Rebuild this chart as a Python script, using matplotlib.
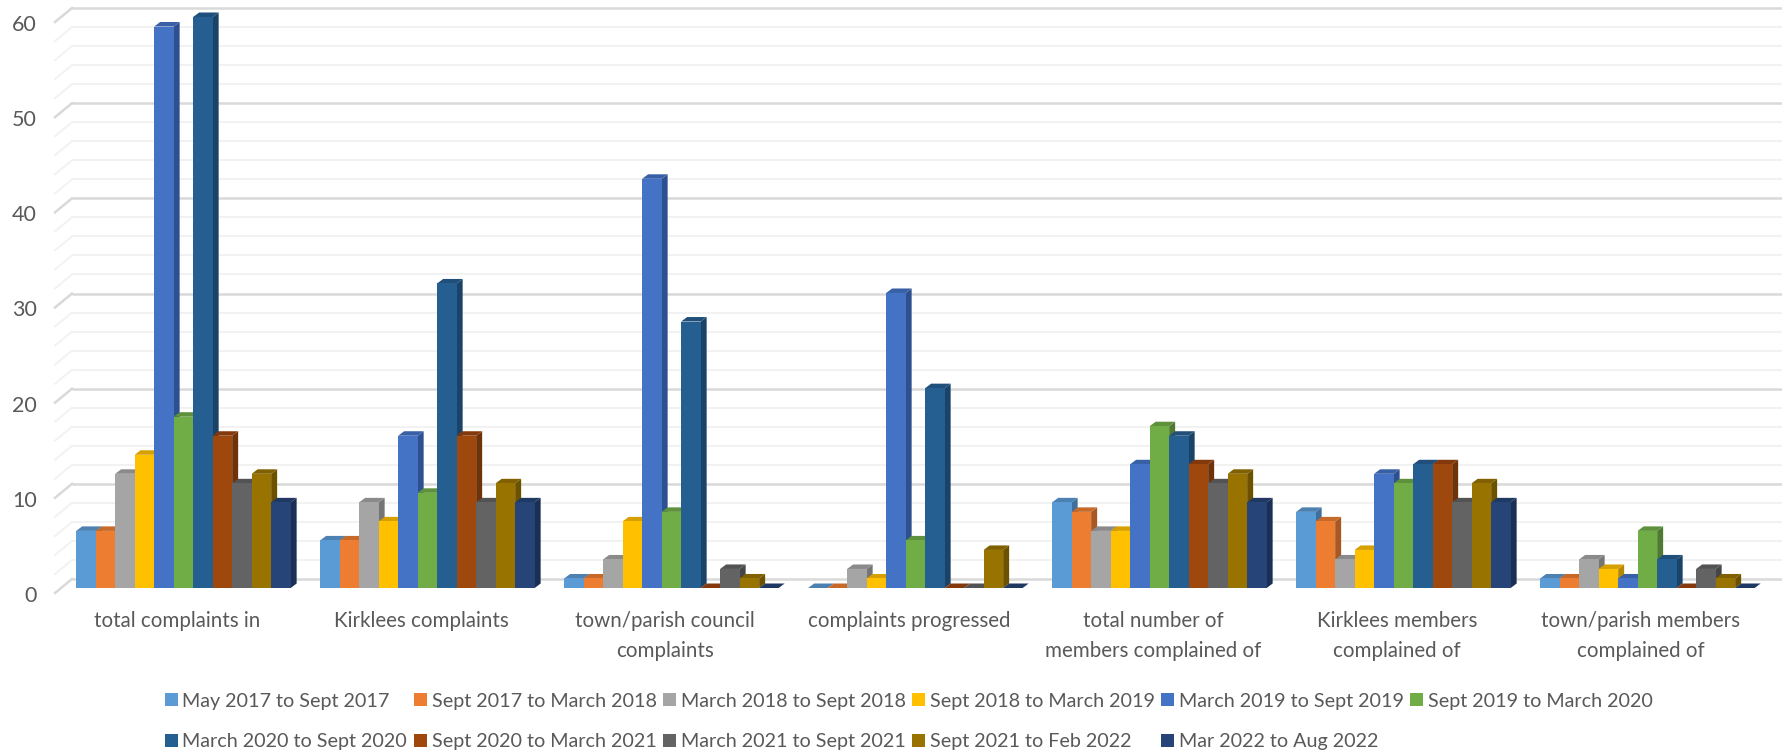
import matplotlib
matplotlib.use('Agg')
import matplotlib.pyplot as plt
from matplotlib.patches import Polygon, Rectangle

categories = ['total complaints in', 'Kirklees complaints', 'town/parish council\ncomplaints',
              'complaints progressed', 'total number of\nmembers complained of',
              'Kirklees members\ncomplained of', 'town/parish members\ncomplained of']
periods = ['May 2017 to Sept 2017', 'Sept 2017 to March 2018', 'March 2018 to Sept 2018',
           'Sept 2018 to March 2019', 'March 2019 to Sept 2019', 'Sept 2019 to March 2020',
           'March 2020 to Sept 2020', 'Sept 2020 to March 2021', 'March 2021 to Sept 2021',
           'Sept 2021 to Feb 2022', 'Mar 2022 to Aug 2022']
may_2017 = [6, 5, 1, 0, 9, 8, 1]
sep_2017 = [6, 5, 1, 0, 8, 7, 1]
mar_2018 = [12, 9, 3, 2, 6, 3, 3]
sep_2018 = [14, 7, 7, 1, 6, 4, 2]
mar_2019 = [59, 16, 43, 31, 13, 12, 1]
sep_2019 = [18, 10, 8, 5, 17, 11, 6]
mar_2020 = [60, 32, 28, 21, 16, 13, 3]
sep_2020 = [16, 16, 0, 0, 13, 13, 0]
mar_2021 = [11, 9, 2, 0, 11, 9, 2]
sep_2021 = [12, 11, 1, 4, 12, 11, 1]
mar_2022 = [9, 9, 0, 0, 9, 9, 0]
series = [may_2017, sep_2017, mar_2018, sep_2018, mar_2019, sep_2019,
          mar_2020, sep_2020, mar_2021, sep_2021, mar_2022]

front = ['#5b9bd5', '#ed7d31', '#a5a5a5', '#ffc000', '#4472c4', '#70ad47',
         '#255e91', '#9e480e', '#636363', '#997300', '#264478']
side = ['#3f6f9c', '#a85822', '#757575', '#b58800', '#2f5090', '#4f7a32',
        '#1a4367', '#6f320a', '#464646', '#6c5100', '#1a2f54']
top = ['#4c81b2', '#c66929', '#8a8a8a', '#d6a100', '#3860a6', '#5d913b',
       '#1f4f7a', '#84390c', '#535353', '#806000', '#203962']
text_color = '#595959'

W, H = 1782, 753
group_px = 244.0
bar_w = 19.5 / group_px
first_center_px = 183.4
y0_px, y60_px = 588.0, 17.0
unit_px = (y0_px - y60_px) / 60
dx = 6.0 / group_px
dy = 4.5 / unit_px

plt.rcParams['font.family'] = ['Lato', 'DejaVu Sans']
fig = plt.figure(figsize=(W / 100, H / 100), dpi=100)
ax = fig.add_axes([0, 0, 1, 1])
ax.set_xlim(-first_center_px / group_px, (W - first_center_px) / group_px)
ax.set_ylim(-(H - y0_px) / unit_px, y0_px / unit_px)
ax.axis('off')


def px_x(px):
    return (px - first_center_px) / group_px


def px_y(px):
    return (y0_px - px) / unit_px


# back wall gridlines and the short floor ticks on the left
wall_left, wall_right = px_x(72), px_x(1782)
tick_left = px_x(55)
for v in range(0, 61, 2):
    major = v % 10 == 0
    c = '#d9d9d9' if major else '#f2f2f2'
    lw = 1.8 if major else 1.4
    yb = v + 9 / unit_px
    ax.plot([wall_left, wall_right], [yb, yb], color=c, lw=lw, zorder=1, solid_capstyle='butt')
    ax.plot([tick_left, wall_left], [v - 5 / unit_px, yb], color=c, lw=lw, zorder=1)

# each bar is a side face, a top face and a front face, drawn left to right
for i in range(len(categories)):
    for j, vals in enumerate(series):
        v = vals[i]
        x0 = i + (j - 5.5) * bar_w
        x1 = x0 + bar_w
        z = 2 + j * 3
        ax.add_patch(Polygon([(x1, 0), (x1 + dx, dy), (x1 + dx, v + dy), (x1, v)],
                             facecolor=side[j], edgecolor='none', zorder=z))
        ax.add_patch(Polygon([(x0, v), (x0 + dx, v + dy), (x1 + dx, v + dy), (x1, v)],
                             facecolor=top[j], edgecolor='none', zorder=z + 1))
        ax.bar(x0, v, width=bar_w, align='edge', color=front[j], zorder=z + 2)

    ax.text(i - 6.5 / group_px, px_y(611), categories[i], ha='center', va='top', fontsize=14.8,
            color=text_color, linespacing=1.65, zorder=50)

for v in range(0, 61, 10):
    ax.text(px_x(37), v - 8 / unit_px, str(v), ha='right', va='center',
            fontsize=15.5, color=text_color)

# legend, two rows on a fixed column pitch
legend_left = 165
legend_pitch = 249
row_y = [699, 740]
for j, name in enumerate(periods):
    col = j % 6
    yp = row_y[j // 6]
    sx = legend_left + col * legend_pitch
    ax.add_patch(Rectangle((px_x(sx), px_y(yp + 6.5)), 13 / group_px, 13 / unit_px,
                           facecolor=front[j], edgecolor='none', zorder=60))
    ax.text(px_x(sx + 17.5), px_y(yp + 2), name, ha='left', va='center',
            fontsize=14.2, color=text_color)

fig.savefig('out.png', dpi=100, facecolor='white')
